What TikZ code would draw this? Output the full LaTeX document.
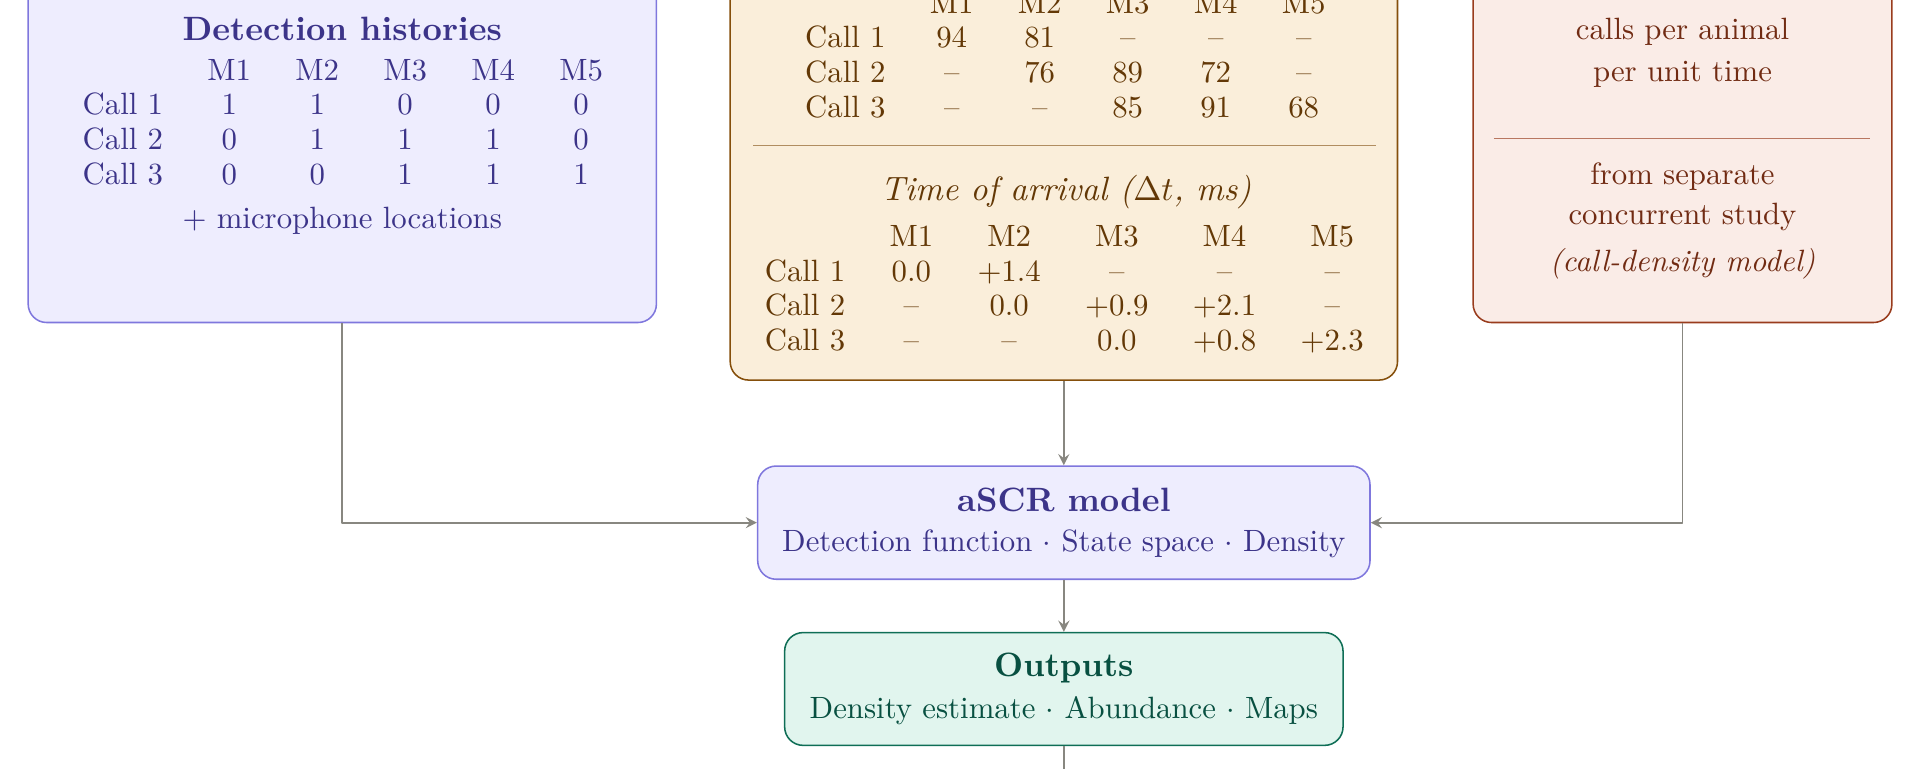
\documentclass[tikz,border=0pt,11pt]{standalone}
\usepackage{array}
\definecolor{pfill}{HTML}{EEEDFE}
\definecolor{pline}{HTML}{7F77DD}
\definecolor{ptext}{HTML}{3C3489}
\definecolor{afill}{HTML}{FAEEDA}
\definecolor{aline}{HTML}{854F0B}
\definecolor{atext}{HTML}{633806}
\definecolor{cfill}{HTML}{FAECE7}
\definecolor{cline}{HTML}{993C1D}
\definecolor{ctext}{HTML}{712B13}
\definecolor{tfill}{HTML}{E1F5EE}
\definecolor{tline}{HTML}{0F6E56}
\definecolor{ttext}{HTML}{085041}
\definecolor{flowgray}{HTML}{888780}
\setlength{\tabcolsep}{7.2pt}
\renewcommand{\arraystretch}{0.94}
\begin{document}
\begin{tikzpicture}[>=stealth,line join=round,font=\small,
	card/.style={draw,rounded corners=6pt,line width=0.5pt,inner sep=0pt},
	pcard/.style={card,fill=pfill,draw=pline,text=ptext},
	acard/.style={card,fill=afill,draw=aline,text=atext},
	ccard/.style={card,fill=cfill,draw=cline,text=ctext},
	tcard/.style={card,fill=tfill,draw=tline,text=ttext},
	tab/.style={inner sep=0pt,anchor=west},
	ttl/.style={font=\normalsize\bfseries},
	flow/.style={->,draw=flowgray,line width=0.6pt}]
	\useasboundingbox (0,0) rectangle (21.91,-8.765);
	\clip (0,0) rectangle (21.91,-8.765);
	\node[pcard,minimum width=7.169cm,minimum height=4.7cm,anchor=south] (hist) at (3.906,-3.689) {};
	\node[acard,minimum width=7.615cm,minimum height=5.4cm,anchor=south] (toa) at (12.14,-4.346) {};
	\node[ccard,minimum width=4.779cm,minimum height=4.7cm,anchor=south] (rate) at (19.2,-3.689) {};
	\node[pcard,minimum width=6.987cm,minimum height=1.292cm,align=center] (ascr) at (12.14,-5.964) {{\normalsize\bfseries aSCR model}\\[1.1pt]Detection function $\cdot$ State space $\cdot$ Density};
	\node[tcard,minimum width=6.372cm,minimum height=1.287cm,align=center] (outputs) at (12.14,-7.862) {{\normalsize\bfseries Outputs}\\[1.4pt]Density estimate $\cdot$ Abundance $\cdot$ Maps};
	\node[ttl,text=ptext] (histtitle) at (3.906,-0.335) {Detection histories};
	\node[tab,text=ptext] (histtab) at (0.936,-1.43) {\begin{tabular}{@{}lccccc@{}}
		& M1 & M2 & M3 & M4 & M5\\
		Call 1 & 1 & 1 & 0 & 0 & 0\\
		Call 2 & 0 & 1 & 1 & 1 & 0\\
		Call 3 & 0 & 0 & 1 & 1 & 1
	\end{tabular}};
	\node[text=ptext] (histmic) at (3.906,-2.515) {+ microphone locations};
	\node[tab,text=atext] (sstab) at (9.181,-0.665) {\begin{tabular}{@{}lccccc@{}}
		& M1 & M2 & M3 & M4 & M5\\
		Call 1 & 94 & 81 & -- & -- & --\\
		Call 2 & -- & 76 & 89 & 72 & --\\
		Call 3 & -- & -- & 85 & 91 & 68
	\end{tabular}};
	\draw[aline!65,line width=0.4pt] (8.594,-1.663) -- (15.707,-1.663);
	\node[text=atext,font=\normalsize\itshape] (toatitle) at (12.164,-2.194) {Time of arrival ($\Delta t$, ms)};
	\node[tab,text=atext] (toatab) at (8.72,-3.326) {\begin{tabular}{@{}lccccc@{}}
		& M1 & M2 & M3 & M4 & M5\\
		Call 1 & 0.0 & +1.4 & -- & -- & --\\
		Call 2 & -- & 0.0 & +0.9 & +2.1 & --\\
		Call 3 & -- & -- & 0.0 & +0.8 & +2.3
	\end{tabular}};
	\node[text=ctext,align=center] (ratetop) at (19.2,-0.6) {calls per animal\\[1.8pt]per unit time};
	\draw[cline!70,line width=0.4pt] (17.048,-1.579) -- (21.338,-1.579);
	\node[text=ctext,align=center] (ratesrc) at (19.2,-2.518) {from separate\\[1pt]concurrent study\\[3.3pt]\textit{(call-density model)}};
	\coordinate (next) at (12.14,-9.6);
	\draw[flow] (toa.south) -- (ascr.north);
	\draw[flow] (hist.south) |- (ascr.west);
	\draw[flow] (rate.south) |- (ascr.east);
	\draw[flow] (ascr.south) -- (outputs.north);
	\draw[flow] (outputs.south) -- (next);
\end{tikzpicture}
\end{document}
